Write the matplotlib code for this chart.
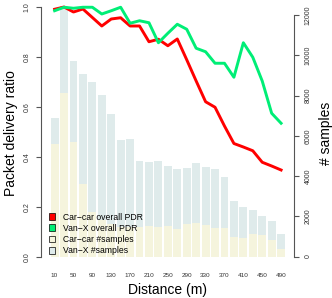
import numpy as np
import matplotlib.pyplot as plt
from matplotlib.patches import Patch

plt.rcParams['font.family'] = ['Liberation Sans', 'DejaVu Sans']

# distance bins (m)
distance = [10, 30, 50, 70, 90, 110, 130, 150, 170, 190, 210, 230, 250,
            270, 290, 310, 330, 350, 370, 390, 410, 430, 450, 470, 490]

# packet delivery ratio per bin
pdr_car = [0.991, 1.0, 0.98, 0.992, 0.958, 0.924, 0.952, 0.957, 0.924, 0.924,
           0.861, 0.871, 0.845, 0.872, 0.789, 0.704, 0.621, 0.599, 0.524, 0.454,
           0.44, 0.425, 0.379, 0.364, 0.348]
pdr_van = [0.985, 0.999, 0.995, 0.999, 0.999, 0.972, 0.985, 0.999, 0.935, 0.945,
           0.937, 0.857, 0.895, 0.931, 0.911, 0.835, 0.821, 0.775, 0.775, 0.719,
           0.857, 0.799, 0.704, 0.575, 0.535]

# number of samples per bin
n_car = [5580, 8100, 5690, 3586, 2206, 1800, 1600, 1450, 1450, 1480,
         1500, 1460, 1494, 1361, 1594, 1677, 1560, 1394, 1411, 946,
         929, 1129, 1046, 797, 382]
n_van = [6907, 12450, 9711, 9064, 8680, 8018, 7072, 5800, 5840, 4731,
         4681, 4765, 4482, 4333, 4382, 4631, 4466, 4366, 3934, 2756,
         2440, 2324, 1992, 1759, 1096]

# x positions like R barplot (space 0.2, width 1)
x = np.arange(len(distance)) * 1.2 + 0.7

fig = plt.figure(figsize=(3.32, 2.98), dpi=100)
ax = fig.add_axes([0.1244, 0.1107, 0.7623, 0.8826])
ax2 = ax.twinx()

# bars on the right axis, lines on the left one
ax2.bar(x, n_van, width=1.0, color='#DFEBEB', zorder=1)
ax2.bar(x, n_car, width=1.0, color='#F5F4DD', zorder=2)
ax.plot(x, pdr_car, color='#FF0000', lw=2.1, zorder=5)
ax.plot(x, pdr_van, color='#00EE76', lw=2.1, zorder=5)

ax.set_zorder(ax2.get_zorder() + 1)
ax.patch.set_visible(False)

ax.set_xlim(-0.992, 31.19)
ax.set_ylim(-0.032, 1.02)
ax2.set_ylim(-422, 12646)

gris = '#555555'
for a in (ax, ax2):
    for s in ['top', 'bottom']:
        a.spines[s].set_visible(False)
ax.spines['right'].set_visible(False)
ax2.spines['left'].set_visible(False)
ax.spines['left'].set_bounds(0, 1)
ax2.spines['right'].set_bounds(0, 12000)
ax.spines['left'].set_color(gris)
ax2.spines['right'].set_color(gris)

ax.set_yticks(np.arange(0, 1.01, 0.2))
ax.set_yticklabels(['%.1f' % v for v in np.arange(0, 1.01, 0.2)],
                   rotation=90, va='center', fontsize=5.0, color='#333333')
ax2.set_yticks(np.arange(0, 12001, 2000))
ax2.set_yticklabels([str(v) for v in range(0, 12001, 2000)],
                    rotation=90, va='center', fontsize=5.0, color='#333333')
ax.tick_params(axis='y', length=3.6, width=0.8, color=gris, pad=4)
ax2.tick_params(axis='y', length=3.6, width=0.8, color=gris, pad=4)

ax.set_xticks(x[::2])
ax.set_xticklabels([str(d) for d in distance[::2]], fontsize=4.6, color='#333333')
ax.tick_params(axis='x', length=0, pad=6)

ax.set_xlabel('Distance (m)', fontsize=10, labelpad=3)
ax.set_ylabel('Packet delivery ratio', fontsize=10, labelpad=4)
ax2.set_ylabel('# samples', fontsize=10, labelpad=5)

# legende
handles = [Patch(facecolor='#FF0000', edgecolor='black', lw=0.5),
           Patch(facecolor='#00EE76', edgecolor='black', lw=0.5),
           Patch(facecolor='#F5F4DD', edgecolor='black', lw=0.5),
           Patch(facecolor='#DFEBEB', edgecolor='black', lw=0.5)]
labels = ['Car\u2212car overall PDR', 'Van\u2212X overall PDR',
          'Car\u2212car #samples', 'Van\u2212X #samples']
ax.legend(handles, labels, loc='lower left', bbox_to_anchor=(0.015, 0.024),
          frameon=False, fontsize=6.2, handlelength=0.8, handleheight=0.8,
          handletextpad=0.9, labelspacing=0.26, borderaxespad=0)

fig.savefig('out.png', dpi=100)
